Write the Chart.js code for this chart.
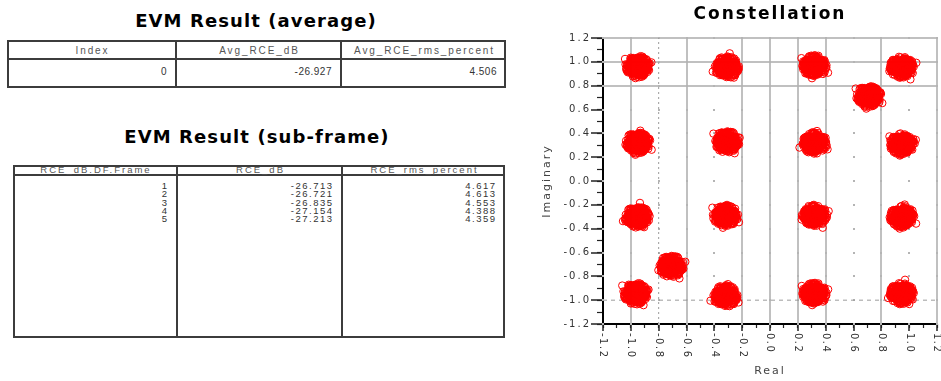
<!DOCTYPE html>
<html>
<head>
<meta charset="utf-8">
<script src="https://cdn.jsdelivr.net/npm/chart.js@4.4.1/dist/chart.umd.min.js"></script>
<style>
  html, body { margin: 0; padding: 0; width: 941px; height: 381px; overflow: hidden; background: #fff; }
  body { position: relative; font-family: "Liberation Sans", Arial, sans-serif; }
  .title { position: absolute; font: bold 18px "DejaVu Sans", sans-serif; letter-spacing: 1.1px; color: #000;
           white-space: nowrap; line-height: 24px; transform: translateX(-50%); }
  .box { position: absolute; box-sizing: border-box; border: 2px solid #3c3c3c; }
  .vline { position: absolute; top: 0; bottom: 0; width: 2px; background: #3c3c3c; }
  .hline { position: absolute; left: 0; right: 0; height: 2px; background: #3c3c3c; }
  .cell { position: absolute; white-space: nowrap; }
  .head { color: #555; text-align: center; }
  .num { color: #333; text-align: right; }
  #chartWrap { position: absolute; left: 530px; top: 0; width: 420px; height: 381px; }
</style>
</head>
<body>
<div class="title" style="left:256px; top:9px;">EVM Result (average)</div>
<div class="title" style="left:257px; top:125px;">EVM Result (sub-frame)</div>
<div id="tables"></div>
<div id="chartWrap"><canvas id="constellation" width="420" height="381"></canvas></div>

<script>
// ---- EVM summary values ----
const avgHeaders = ['Index', 'Avg_RCE_dB', 'Avg_RCE_rms_percent'];
const avgIndex = [0];
const avgRceDb = [-26.927];
const avgRmsPct = [4.506];

const subHeaders = ['RCE_dB.DF.Frame', 'RCE_dB', 'RCE_rms_percent'];
const subFrame = [1, 2, 3, 4, 5];
const subRceDb = [-26.713, -26.721, -26.835, -27.154, -27.213];
const subRmsPct = [4.617, 4.613, 4.553, 4.388, 4.359];

// ---- constellation: measured cluster centres (16QAM grid + two QPSK reference symbols) ----
const clusterX = [-0.95, -0.31, 0.32, 0.95,
                  -0.95, -0.31, 0.32, 0.95,
                  -0.955, -0.32, 0.32, 0.95,
                  -0.965, -0.32, 0.32, 0.95,
                   0.71, -0.71];
const clusterY = [0.96, 0.955, 0.965, 0.955,
                  0.32, 0.33, 0.32, 0.31,
                  -0.30, -0.29, -0.29, -0.30,
                  -0.945, -0.965, -0.945, -0.945,
                   0.71, -0.715];

// error-vector samples: magnitudes (thousandths of full scale) and phases (degrees)
const errMag = [5, 9, 12, 14, 17, 19, 21, 23, 25, 26, 28, 30, 31, 33, 34, 36, 37, 39, 40, 42,
                43, 45, 46, 48, 49, 51, 52, 54, 56, 57, 59, 61, 62, 64, 66, 68, 70, 72, 74, 77,
                80, 83, 86, 90, 8, 15, 22, 29, 35, 41, 47, 53, 58, 63, 69, 75, 20, 32, 44, 38];
const errPhase = [13, 247, 98, 322, 176, 61, 289, 205, 140, 35, 268, 115, 340, 190, 77, 228, 155, 5, 302, 124,
                  47, 259, 183, 333, 88, 214, 22, 276, 160, 105, 351, 233, 68, 297, 137, 199, 28, 312, 83, 250,
                  168, 3, 223, 118, 281, 54, 196, 327, 147, 241, 72, 309, 130, 18, 264, 187, 93, 346, 210, 40];
// a few stray samples well away from the symbol
const strayMag = [104, 112, 98, 118, 108, 101, 115];
const strayPhase = [20, 145, 260, 330, 80, 200, 300];

// axis range, tick steps and reference markers
const axisMin = -1.2, axisMax = 1.2;
const majorStep = 0.2, minorStep = 0.1;
const xGridLines = [-1.0, -0.6, -0.2, 0.0, 0.2, 0.4, 0.8, 1.2];
const yGridLines = [0.8, 1.0, 1.2];
const refLevelY = -1.0;   // dashed horizontal marker
const refLevelX = -0.8;   // dotted vertical marker

// ---- tables ----
function makeTable(host, box, edges, headerH, headers, columns, rowTop, rowH, style) {
  const el = document.createElement('div');
  el.className = 'box';
  el.style.left = box.left + 'px'; el.style.top = box.top + 'px';
  el.style.width = box.width + 'px'; el.style.height = box.height + 'px';
  host.appendChild(el);
  const hl = document.createElement('div');
  hl.className = 'hline'; hl.style.top = (headerH - 2) + 'px';
  el.appendChild(hl);
  edges.slice(1, -1).forEach(x => {
    const v = document.createElement('div');
    v.className = 'vline'; v.style.left = (x - box.left - 3) + 'px';
    el.appendChild(v);
  });
  headers.forEach((h, i) => {
    const c = document.createElement('div');
    c.className = 'cell head';
    c.textContent = h;
    c.style.left = (edges[i] - box.left) + 'px';
    c.style.width = (edges[i + 1] - edges[i] - 2) + 'px';
    c.style.top = style.headTop + 'px';
    c.style.font = style.headFont; c.style.letterSpacing = style.headSpacing;
    c.style.lineHeight = style.headLine + 'px';
    el.appendChild(c);
  });
  columns.forEach((col, i) => {
    col.forEach((txt, r) => {
      const c = document.createElement('div');
      c.className = 'cell num';
      c.textContent = txt;
      c.style.right = (box.left + box.width - edges[i + 1] + style.inset) + 'px';
      c.style.top = (rowTop + r * rowH - box.top - 2) + 'px';
      c.style.font = style.numFont; c.style.letterSpacing = style.numSpacing;
      c.style.lineHeight = style.numLine + 'px';
      el.appendChild(c);
    });
  });
}

const host = document.getElementById('tables');
makeTable(host, {left: 7, top: 40, width: 499, height: 48}, [7, 176, 341, 506], 17.5, avgHeaders,
  [avgIndex.map(String), avgRceDb.map(v => v.toFixed(3)), avgRmsPct.map(v => v.toFixed(3))],
  65, 14,
  {headTop: 3, headFont: '10px "Liberation Sans", Arial, sans-serif', headSpacing: '1.9px', headLine: 12,
   numFont: '10px "Liberation Sans", Arial, sans-serif', numSpacing: '0.5px', numLine: 14, inset: 7});
makeTable(host, {left: 13, top: 165, width: 492, height: 173}, [13, 177, 342, 505], 9, subHeaders,
  [subFrame.map(String), subRceDb.map(v => v.toFixed(3)), subRmsPct.map(v => v.toFixed(3))],
  181, 8.3,
  {headTop: -2, headFont: '9.5px "Liberation Sans", Arial, sans-serif', headSpacing: '2px', headLine: 9,
   numFont: '9.5px "Liberation Sans", Arial, sans-serif', numSpacing: '1.5px', numLine: 10, inset: 6.5});

// ---- constellation points ----
// every symbol reuses the measured error samples, paired magnitude/phase with its own offset
const points = [];
const nPh = errPhase.length;
const deg = Math.PI / 180;
clusterX.forEach((cx, c) => {
  const cy = clusterY[c];
  for (let p = 0; p < 8; p++) {
    errMag.forEach((m, i) => {
      const a = errPhase[(i * 7 + 13 * p + 5 * c) % nPh] * deg;
      points.push({x: cx + m / 1000 * Math.cos(a), y: cy + m / 1000 * Math.sin(a)});
    });
  }
  for (let k = 0; k < 3; k++) {
    const j = (c * 3 + k) % strayMag.length;
    const a = strayPhase[(j + c) % strayPhase.length] * deg;
    points.push({x: cx + strayMag[j] / 1000 * Math.cos(a), y: cy + strayMag[j] / 1000 * Math.sin(a)});
  }
});

const near = (v, list) => list.some(a => Math.abs(a - v) < 1e-6);
const gridGray = '#c0c0c0';
const tickFont = {family: '"DejaVu Sans", sans-serif', size: 10};
const fmt = v => Number(v).toFixed(1);

const gridDots = {
  id: 'gridDots',
  beforeDatasetsDraw(chart) {
    const {ctx, scales: {x, y}} = chart;
    ctx.save();
    ctx.fillStyle = '#b4b4b4';
    x.ticks.forEach(tx => y.ticks.forEach(ty => {
      const px = Math.round(x.getPixelForValue(tx.value));
      const py = Math.round(y.getPixelForValue(ty.value));
      ctx.fillRect(px - 1, py - 1, 2, 2);
    }));
    ctx.restore();
  }
};
const textSpacing = {
  id: 'textSpacing',
  beforeDraw(chart) { chart.ctx.letterSpacing = '2px'; }
};
// x tick labels run downward (turned a quarter clockwise)
const xTickLabels = {
  id: 'xTickLabels',
  afterDraw(chart) {
    const {ctx, scales: {x}} = chart;
    ctx.save();
    ctx.font = '10px "DejaVu Sans", sans-serif';
    ctx.letterSpacing = '1.5px';
    ctx.fillStyle = '#333';
    ctx.textAlign = 'left';
    ctx.textBaseline = 'middle';
    x.ticks.forEach(t => {
      ctx.save();
      ctx.translate(x.getPixelForValue(t.value), x.top + 9);
      ctx.rotate(Math.PI / 2);
      ctx.fillText(fmt(t.value), 0, 0);
      ctx.restore();
    });
    ctx.restore();
  }
};

new Chart(document.getElementById('constellation'), {
  type: 'scatter',
  data: {
    datasets: [
      {
        type: 'line',
        data: [{x: axisMin, y: refLevelY}, {x: axisMax, y: refLevelY}],
        borderColor: '#9c9c9c', borderWidth: 1, borderDash: [4, 4], pointRadius: 0, order: 3
      },
      {
        type: 'line',
        data: [{x: refLevelX, y: axisMin}, {x: refLevelX, y: axisMax}],
        borderColor: '#9c9c9c', borderWidth: 1, borderDash: [2, 3], pointRadius: 0, order: 2
      },
      {
        data: points,
        pointStyle: 'circle', pointRadius: 3.7,
        borderColor: '#ff0000', backgroundColor: 'rgba(255,0,0,0)', borderWidth: 1,
        order: 1
      }
    ]
  },
  options: {
    responsive: false,
    animation: false,
    devicePixelRatio: 1,
    layout: {padding: {left: 0, right: 13, top: 0, bottom: 0}},
    plugins: {
      legend: {display: false},
      tooltip: {enabled: false},
      title: {
        display: true, text: 'Constellation', fullSize: false, color: '#000',
        font: {family: '"DejaVu Sans", sans-serif', size: 17, weight: 'bold'},
        padding: {top: 4, bottom: 13.6}
      }
    },
    scales: {
      x: {
        type: 'linear', position: 'bottom', min: axisMin, max: axisMax, weight: 1,
        afterFit: s => { s.height = 57; },
        ticks: {stepSize: majorStep, autoSkip: false, display: false},
        grid: {color: c => near(c.tick.value, xGridLines) ? gridGray : 'rgba(0,0,0,0)',
               lineWidth: 2, tickLength: 7, tickColor: '#222', tickWidth: 1.5},
        border: {color: '#000', width: 2},
        title: {display: true, text: 'Real', color: '#444',
                font: {family: '"DejaVu Sans", sans-serif', size: 11}, padding: {top: 0, bottom: 3}}
      },
      x2: {
        type: 'linear', position: 'bottom', min: axisMin, max: axisMax, weight: 0,
        afterFit: s => { s.height = 0; },
        ticks: {stepSize: minorStep, display: false},
        grid: {drawOnChartArea: false, tickLength: 4, tickColor: '#222', tickWidth: 1.2},
        border: {display: false}
      },
      y: {
        type: 'linear', position: 'left', min: axisMin, max: axisMax, weight: 1,
        afterFit: s => { s.width = 73; },
        ticks: {stepSize: majorStep, autoSkip: false, padding: 0, color: '#333', font: tickFont, callback: fmt},
        grid: {color: c => near(c.tick.value, yGridLines) ? gridGray : 'rgba(0,0,0,0)',
               lineWidth: 2, tickLength: 12, tickColor: '#222', tickWidth: 1.5},
        border: {color: '#000', width: 2},
        title: {display: true, text: 'Imaginary', color: '#444',
                font: {family: '"DejaVu Sans", sans-serif', size: 11}, padding: {top: 11, bottom: 0}}
      },
      y2: {
        type: 'linear', position: 'left', min: axisMin, max: axisMax, weight: 0,
        afterFit: s => { s.width = 0; },
        ticks: {stepSize: minorStep, display: false},
        grid: {drawOnChartArea: false, tickLength: 6, tickColor: '#222', tickWidth: 1.2},
        border: {display: false}
      }
    }
  },
  plugins: [gridDots, textSpacing, xTickLabels]
});
</script>
</body>
</html>
